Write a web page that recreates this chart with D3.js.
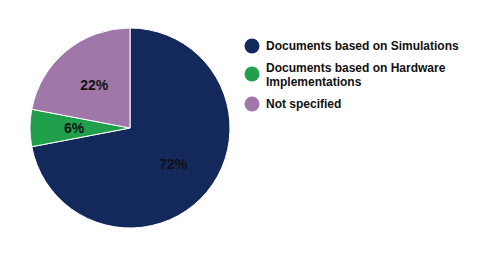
<!DOCTYPE html>
<html>
<head>
<meta charset="utf-8">
<script src="https://cdn.jsdelivr.net/npm/d3@7"></script>
<style>
  body { margin: 0; background: #fff; }
  svg text { font-family: "Liberation Sans", Arial, sans-serif; font-weight: bold; }
</style>
</head>
<body>
<svg id="chart" width="480" height="254"></svg>
<script>
// data
var categories = ["Documents based on Simulations", "Documents based on Hardware Implementations", "Not specified"];
var legendLines = [["Documents based on Simulations"], ["Documents based on Hardware", "Implementations"], ["Not specified"]];
var values = [72, 6, 22];
var colors = ["#13285b", "#20a04b", "#9f78a9"];

var svg = d3.select("#chart");
var cx = 130, cy = 128, radius = 100;

var pie = d3.pie().sort(null).value(function(d){ return d; });
var arc = d3.arc().innerRadius(0).outerRadius(radius);
var labelArc = d3.arc().innerRadius(56).outerRadius(56);

var g = svg.append("g").attr("transform", "translate(" + cx + "," + cy + ")");
var arcs = pie(values);

g.selectAll("path")
  .data(arcs).enter()
  .append("path")
  .attr("d", arc)
  .attr("fill", function(d, i){ return colors[i]; })
  .attr("stroke", "#fff")
  .attr("stroke-width", 1);

g.selectAll("text.lbl")
  .data(arcs).enter()
  .append("text")
  .attr("class", "lbl")
  .attr("transform", function(d){ return "translate(" + labelArc.centroid(d) + ")"; })
  .attr("text-anchor", "middle")
  .attr("dy", "0.35em")
  .style("font-size", "14px")
  .attr("fill", "#111")
  .text(function(d){ return d.data + "%"; });

// legend
var legendY = [46, 75, 104];
var legend = svg.append("g");
var items = legend.selectAll("g")
  .data(categories).enter()
  .append("g")
  .attr("transform", function(d, i){ return "translate(252," + legendY[i] + ")"; });

items.append("circle")
  .attr("r", 7.5)
  .attr("cy", function(d, i){ return i == 1 ? -1 : 0; })
  .attr("fill", function(d, i){ return colors[i]; });

items.append("text")
  .attr("x", 14)
  .style("font-size", "12px")
  .attr("fill", "#111")
  .each(function(d, i){
    var lines = legendLines[i];
    var t = d3.select(this);
    var off = -(lines.length - 1) * 14 / 2;
    lines.forEach(function(l, j){
      t.append("tspan").attr("x", 14).attr("y", off + j * 14).attr("dy", "0.35em").text(l);
    });
  });
</script>
</body>
</html>
